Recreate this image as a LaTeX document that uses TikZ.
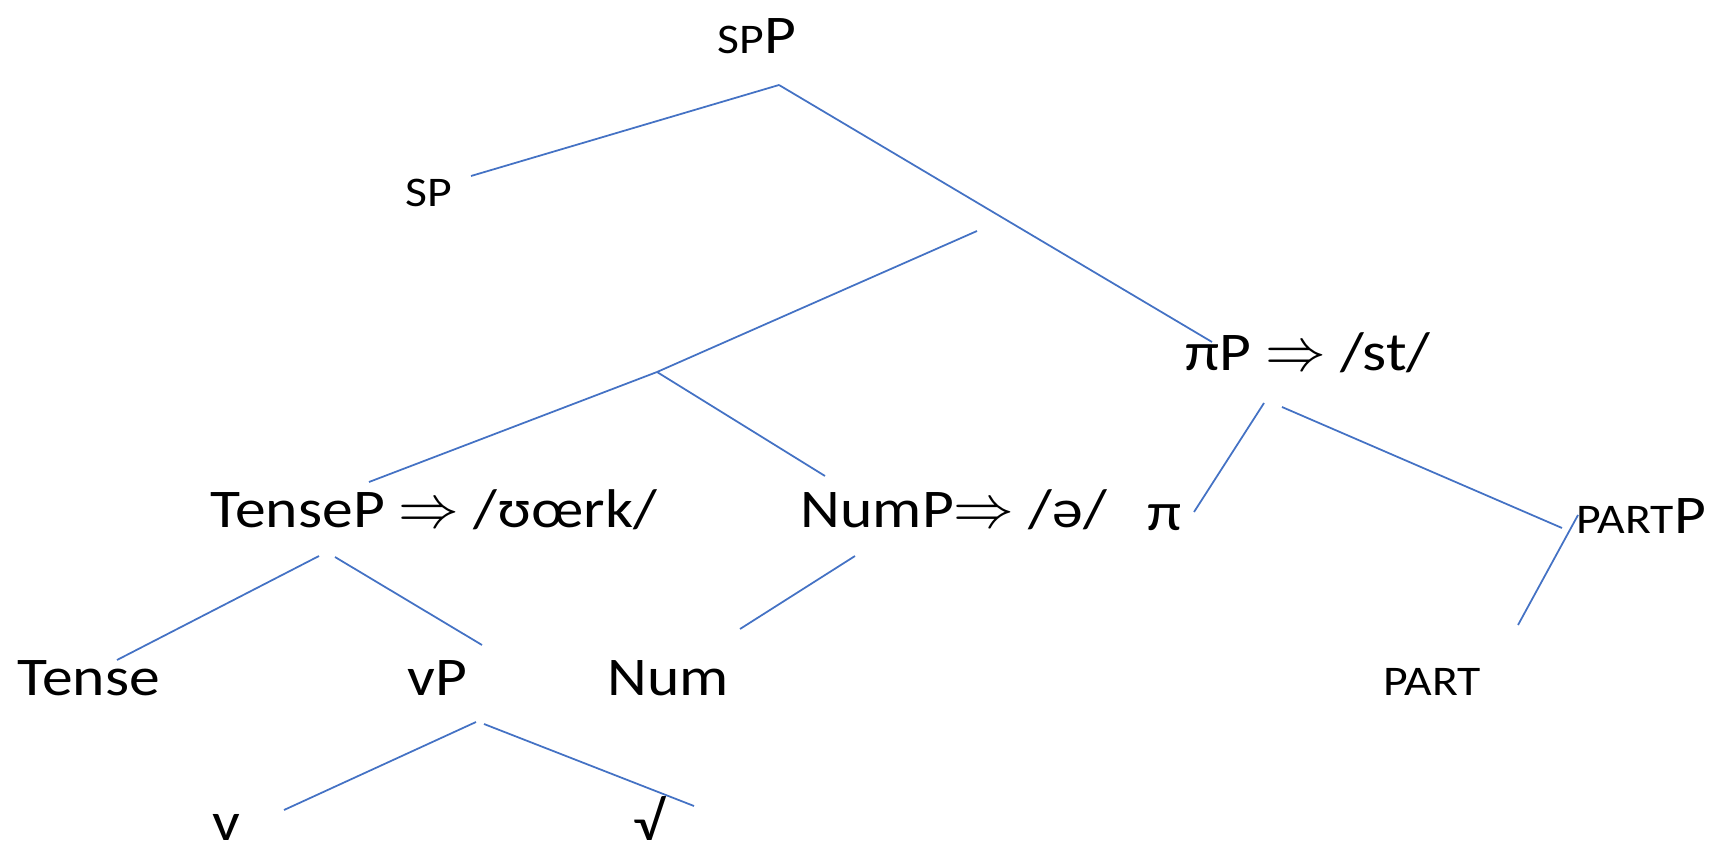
\documentclass[tikz,border=0pt]{standalone}
\usepackage{fontspec}
\setmainfont{Carlito}[FakeStretch=1.13]
\usetikzlibrary{positioning}
\definecolor{treeblue}{RGB}{68,114,196}
\tikzset{
  lbl/.style={inner sep=0pt, anchor=base west, font=\fontsize{15.5}{18}\selectfont},
  smalllbl/.style={inner sep=0pt, anchor=base west, font=\fontsize{12}{14}\selectfont},
  branch/.style={draw=treeblue, line width=0.5pt}
}
\newcommand{\smc}[1]{{\fontsize{12}{14}\selectfont #1}}
\newcommand{\arr}{{\fontsize{17}{18}\selectfont$\Rightarrow$}}

\begin{document}
\begin{tikzpicture}[x=0.01cm, y=-0.01cm]
    \useasboundingbox (0,0) rectangle (1716,855);

    % labelled nodes
    \node[lbl] (spp) at (717,54) {\smc{SP}P};
    \node[smalllbl] (sp) at (405,207) {SP};
    \node[lbl] (pip) at (1185,370) {π{}P \arr{} /st/};
    \node[lbl] (tensep) at (210,527) {TenseP \arr{} /ʊœrk/};
    \node[lbl] (nump) at (800,527) {NumP\arr{} /ə/};
    \node[lbl] (pi) at (1147,530) {π};
    \node[lbl] (partp) at (1576,533) {\smc{PART}P};
    \node[lbl] (tense) at (17,695) {Tense};
    \node[lbl] (vp) at (407,695) {vP};
    \node[lbl] (num) at (607,695) {Num};
    \node[smalllbl] (part) at (1383,695) {PART};
    \node[lbl] (v) at (212,840) {v};
    \node[lbl] (root) at (633,840) {√};

    % attachment points
    \coordinate (spp-b) at (779,85);
    \coordinate (sp-r) at (471,176);
    \coordinate (xa) at (1003,218);
    \coordinate (xb) at (977,231);
    \coordinate (pip-t) at (1212,342);
    \coordinate (ya) at (657,372);
    \coordinate (tensep-t) at (369,482);
    \coordinate (nump-t) at (825,476);
    \coordinate (tensep-bl) at (319,556);
    \coordinate (tensep-br) at (335,557);
    \coordinate (tense-t) at (117,660);
    \coordinate (vp-t) at (482,645);
    \coordinate (nump-b) at (855,556);
    \coordinate (num-t) at (740,629);
    \coordinate (vp-bl) at (476,722);
    \coordinate (vp-br) at (484,724);
    \coordinate (v-t) at (284,810);
    \coordinate (root-t) at (694,806);
    \coordinate (pip-bl) at (1264,403);
    \coordinate (pip-br) at (1282,407);
    \coordinate (pi-t) at (1194,512);
    \coordinate (partp-t) at (1562,528);
    \coordinate (partp-b) at (1578,515);
    \coordinate (part-t) at (1518,625);

    % branches
    \path[branch] (spp-b) -- (sp-r);
    \path[branch] (spp-b) -- (xa) -- (pip-t);
    \path[branch] (xb) -- (ya) -- (tensep-t);
    \path[branch] (ya) -- (nump-t);
    \path[branch] (tensep-bl) -- (tense-t);
    \path[branch] (tensep-br) -- (vp-t);
    \path[branch] (nump-b) -- (num-t);
    \path[branch] (vp-bl) -- (v-t);
    \path[branch] (vp-br) -- (root-t);
    \path[branch] (pip-bl) -- (pi-t);
    \path[branch] (pip-br) -- (partp-t);
    \path[branch] (partp-b) -- (part-t);

\end{tikzpicture}
\end{document}
